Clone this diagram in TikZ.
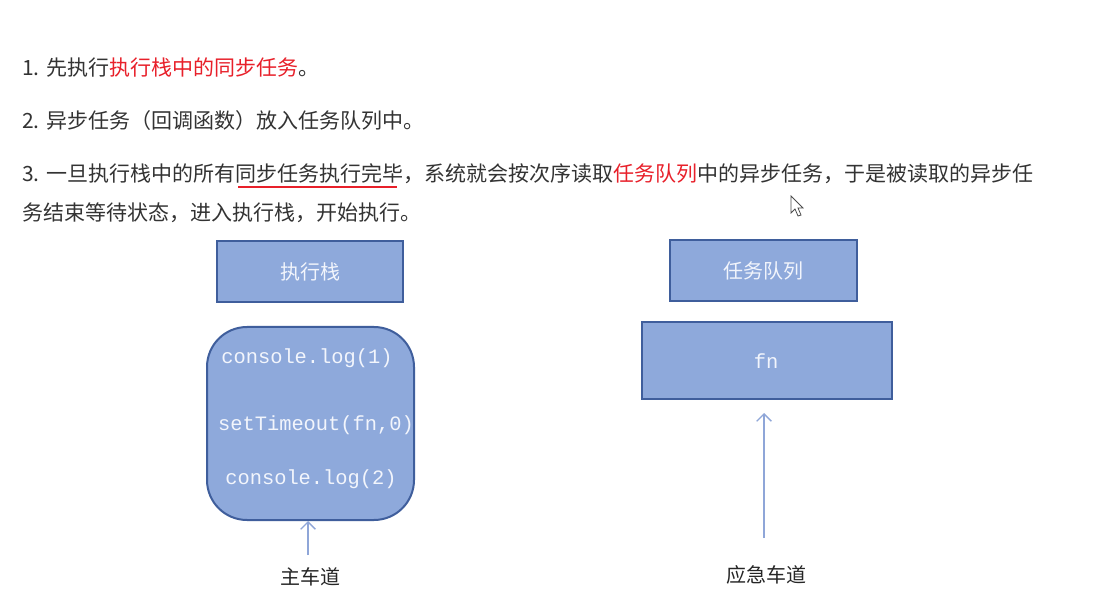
\documentclass[tikz,border=0pt]{standalone}
\usepackage{fontspec}
\usetikzlibrary{arrows.meta}
\setmainfont{Noto Sans CJK SC}
\setmonofont{Liberation Mono}
\definecolor{txt}{HTML}{333333}
\definecolor{hl}{HTML}{E8202A}
\definecolor{boxfill}{HTML}{8EA9DB}
\definecolor{boxline}{HTML}{3F5E9C}
\definecolor{boxtxt}{HTML}{F2F5FC}
\definecolor{arr}{HTML}{8FA6D8}
\tikzset{
  para/.style={anchor=west, inner sep=0pt, text=txt, font=\fontsize{15.75pt}{18pt}\selectfont},
  blockbox/.style={draw=boxline, line width=1.5pt, fill=boxfill, text=boxtxt, inner sep=0pt, font=\fontsize{15pt}{18pt}\selectfont},
  codetxt/.style={text=boxtxt, inner sep=0pt, font=\ttfamily\fontsize{15.3pt}{18pt}\selectfont},
  lanelbl/.style={text=black!85, inner sep=0pt, font=\fontsize{15pt}{18pt}\selectfont},
  lanearrow/.style={draw=arr, line width=1pt, -{Straight Barb[length=5.5pt,width=11pt]}}
}
\begin{document}
\begin{tikzpicture}[x=0.75pt,y=-0.75pt]
\useasboundingbox (0,0) rectangle (1118,602);
\fill[white] (0,0) rectangle (1118,602);
% paragraphs
\node[para] (l1) at (22,68) {1. 先执行\textcolor{hl}{执行栈中的同步任务}。};
\node[para] (l2) at (22,121) {2. 异步任务（回调函数）放入任务队列中。};
\node[para] (l3) at (22,174) {3. 一旦执行栈中的所有同步任务执行完毕，系统就会按次序读取\textcolor{hl}{任务队列}中的异步任务，于是被读取的异步任};
\node[para] (l4) at (22,213) {务结束等待状态，进入执行栈，开始执行。};
\draw[hl, line width=1.5pt] (238,187) -- (397,187);
% cursor
\draw[black!70, fill=white, line width=0.6pt] (791,196) -- (791,213) -- (795,209) -- (798,216) -- (801,215) -- (798,208) -- (803,208) -- cycle;
% left column
\node[blockbox, minimum width=186*0.75pt, minimum height=61*0.75pt] (stacktitle) at (310,271.5) {执行栈};
\node[draw=boxline, line width=1.5pt, fill=boxfill, rounded corners=30pt, minimum width=207*0.75pt, minimum height=193*0.75pt, inner sep=0pt] (stack) at (310.5,423.5) {};
\node[codetxt] (c1) at (307,358) {console.log(1)};
\node[codetxt] (c2) at (316,425) {setTimeout(fn,0)};
\node[codetxt] (c3) at (311,479) {console.log(2)};
\node[lanelbl] (main) at (310,577) {主车道};
\coordinate (mainstart) at (308,555);
\draw[lanearrow] (mainstart) -- (stack.south -| mainstart);
% right column
\node[blockbox, minimum width=187*0.75pt, minimum height=61*0.75pt] (queuetitle) at (763.5,270.5) {任务队列};
\node[blockbox, minimum width=250*0.75pt, minimum height=77*0.75pt] (queue) at (767,360.5) {};
\node[codetxt] (fn) at (766,361) {fn};
\node[lanelbl] (emerg) at (766,575) {应急车道};
\coordinate (emergstart) at (764,538);
\coordinate (emergend) at (764,413);
\draw[lanearrow] (emergstart) -- (emergend);
\end{tikzpicture}
\end{document}
